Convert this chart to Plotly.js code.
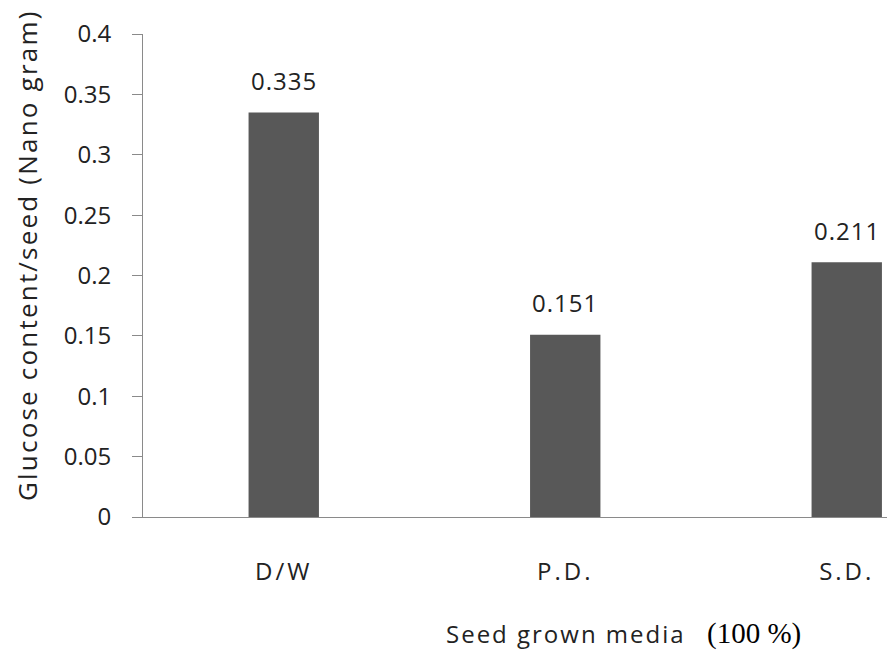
<!DOCTYPE html>
<html>
<head>
<meta charset="utf-8">
<script src="https://cdn.plot.ly/plotly-3.0.1.min.js"></script>
<style>
  html, body { margin: 0; padding: 0; background: #ffffff; overflow: hidden; }
  #chart { width: 887px; height: 656px; }
</style>
</head>
<body>
<div id="chart"></div>
<script>
// Glucose content per seed for each growth medium
const media = ['D/W', 'P.D.', 'S.D.'];
const glucose = [0.335, 0.151, 0.211];
const valueLabels = ['0.335', '0.151', '0.211'];
const yTicks = [0, 0.05, 0.1, 0.15, 0.2, 0.25, 0.3, 0.35, 0.4];
const yTickText = ['0', '0.05', '0.1', '0.15', '0.2', '0.25', '0.3', '0.35', '0.4'];

const sans = 'Open Sans, Liberation Sans, sans-serif';
const serif = 'Liberation Serif, DejaVu Serif, serif';
const textColor = '#222222';

// wrap a label so it is drawn with extra tracking
const spaced = (s, px) => '<span style="letter-spacing:' + px + 'px">' + s + '</span>';

const trace = {
  type: 'bar',
  x: media,
  y: glucose,
  marker: { color: '#585858', line: { width: 0 } },
  hoverinfo: 'x+y'
};

// value labels sit a fixed distance above each bar
const valueAnnotations = media.map((m, i) => ({
  x: m, y: glucose[i], xref: 'x', yref: 'y',
  text: spaced(valueLabels[i], 1), showarrow: false,
  yanchor: 'middle', yshift: 32,
  font: { family: sans, size: 24, color: textColor }
}));

const layout = {
  width: 887,
  height: 656,
  margin: { l: 143, r: 0, t: 34, b: 139 },
  paper_bgcolor: '#ffffff',
  plot_bgcolor: '#ffffff',
  showlegend: false,
  bargap: 0.75,
  xaxis: {
    type: 'category',
    range: [-0.5, 2.143],
    tickvals: media,
    ticktext: media.map(m => spaced(m, 3)),
    showgrid: false,
    zeroline: false,
    showline: true,
    linecolor: '#8a8a8a',
    linewidth: 1,
    ticks: '',
    ticklabelstandoff: 33,
    tickfont: { family: sans, size: 24, color: textColor }
  },
  yaxis: {
    range: [0, 0.4],
    tickvals: yTicks,
    ticktext: yTickText,
    showgrid: false,
    zeroline: false,
    showline: true,
    linecolor: '#8a8a8a',
    linewidth: 1,
    ticks: 'outside',
    ticklen: 10,
    tickcolor: '#8a8a8a',
    tickwidth: 1,
    ticklabelstandoff: 16,
    tickfont: { family: sans, size: 24, color: textColor }
  },
  annotations: valueAnnotations.concat([
    {
      xref: 'paper', yref: 'paper',
      x: (27 - 143) / 744, y: (517 - 255) / 483,
      xanchor: 'center', yanchor: 'middle',
      text: spaced('Glucose content/seed (Nano gram)', 2.2),
      textangle: -90, showarrow: false,
      font: { family: sans, size: 26, color: textColor }
    },
    {
      xref: 'paper', yref: 'paper',
      x: (566 - 143) / 744, y: (517 - 633) / 483,
      xanchor: 'center', yanchor: 'middle',
      text: spaced('Seed grown media', 2), showarrow: false,
      font: { family: sans, size: 24, color: textColor }
    },
    {
      xref: 'paper', yref: 'paper',
      x: (754 - 143) / 744, y: (517 - 633) / 483,
      xanchor: 'center', yanchor: 'middle',
      text: '(100 %)', showarrow: false,
      font: { family: serif, size: 29, color: '#000000' }
    }
  ])
};

Plotly.newPlot('chart', [trace], layout, { displayModeBar: false, staticPlot: true });
</script>
</body>
</html>
